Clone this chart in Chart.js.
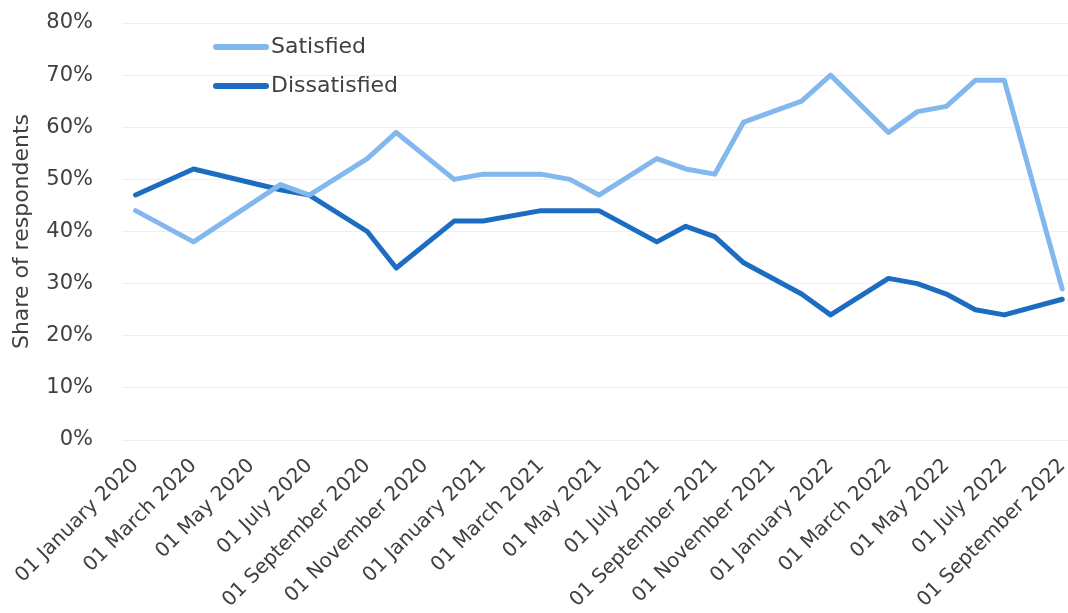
<!DOCTYPE html>
<html>
<head>
<meta charset="utf-8">
<script src="https://cdn.jsdelivr.net/npm/chart.js@4"></script>
<style>
  html, body { margin: 0; padding: 0; background: #fff; }
  #wrap { width: 1068px; height: 613px; position: relative; }
</style>
</head>
<body>
<div id="wrap"><canvas id="myChart"></canvas></div>
<script>
// months from Jan 2020 to Sep 2022, one entry per month
const meses = [
  "01 January 2020", "01 February 2020", "01 March 2020", "01 April 2020", "01 May 2020", "01 June 2020",
  "01 July 2020", "01 August 2020", "01 September 2020", "01 October 2020", "01 November 2020", "01 December 2020",
  "01 January 2021", "01 February 2021", "01 March 2021", "01 April 2021", "01 May 2021", "01 June 2021",
  "01 July 2021", "01 August 2021", "01 September 2021", "01 October 2021", "01 November 2021", "01 December 2021",
  "01 January 2022", "01 February 2022", "01 March 2022", "01 April 2022", "01 May 2022", "01 June 2022",
  "01 July 2022", "01 August 2022", "01 September 2022"
];

// null = no survey that month
const satisfechos = [
  44, null, 38, null, null, 49, 47, null, 54, 59, null, 50,
  51, null, 51, 50, 47, null, 54, 52, 51, 61, null, 65,
  70, null, 59, 63, 64, 69, 69, null, 29
];

const insatisfechos = [
  47, null, 52, null, null, 48, 47, null, 40, 33, null, 42,
  42, null, 44, 44, 44, null, 38, 41, 39, 34, null, 28,
  24, null, 31, 30, 28, 25, 24, null, 27
];

const etiquetasY = [0, 10, 20, 30, 40, 50, 60, 70, 80];

const colorTexto = '#404040';
const fuente = "'DejaVu Sans', sans-serif";

function aPuntos(valores) {
  return valores.map((v, i) => ({ x: i, y: v }));
}

// legend drawn inside the plot, top left
const leyendaPlugin = {
  id: 'leyenda',
  afterDraw(chart) {
    const ctx = chart.ctx;
    chart.data.datasets.forEach((ds, i) => {
      const y = 47 + i * 39;
      ctx.save();
      ctx.strokeStyle = ds.borderColor;
      ctx.lineWidth = 6;
      ctx.lineCap = 'round';
      ctx.beginPath();
      ctx.moveTo(216, y);
      ctx.lineTo(266, y);
      ctx.stroke();
      ctx.fillStyle = colorTexto;
      ctx.font = "22px " + fuente;
      ctx.textBaseline = 'middle';
      ctx.fillText(ds.label, 271, y);
      ctx.restore();
    });
  }
};

const ctx = document.getElementById("myChart");
new Chart(ctx, {
  type: "line",
  data: {
    datasets: [
      {
        label: "Satisfied",
        data: aPuntos(satisfechos),
        borderColor: '#83b8ee',
        borderWidth: 5,
        pointRadius: 0,
        spanGaps: true,
        tension: 0,
        borderJoinStyle: 'round',
        borderCapStyle: 'round'
      },
      {
        label: "Dissatisfied",
        data: aPuntos(insatisfechos),
        borderColor: '#1c6dc2',
        borderWidth: 5,
        pointRadius: 0,
        spanGaps: true,
        tension: 0,
        borderJoinStyle: 'round',
        borderCapStyle: 'round'
      }
    ]
  },
  options: {
    responsive: true,
    maintainAspectRatio: false,
    animation: false,
    layout: { padding: { top: 23, right: 0, left: 0, bottom: 0 } },
    plugins: {
      legend: { display: false },
      tooltip: { enabled: false }
    },
    scales: {
      x: {
        type: 'linear',
        min: -0.47,
        max: 32.2,
        grid: { display: false },
        border: { display: false },
        afterBuildTicks(scale) {
          const t = [];
          for (let i = 0; i < meses.length; i += 2) t.push({ value: i });
          scale.ticks = t;
        },
        afterFit(scale) {
          scale.height = 173;
          scale.paddingLeft = 0;
          scale.paddingRight = 0;
        },
        ticks: {
          autoSkip: false,
          minRotation: 45,
          maxRotation: 45,
          padding: 6,
          color: colorTexto,
          font: { family: fuente, size: 20 },
          callback: (v) => meses[v]
        }
      },
      y: {
        min: 0,
        max: 80,
        grid: { color: '#efefef', drawTicks: false, lineWidth: 1 },
        border: { display: false },
        afterFit(scale) {
          scale.width = 122;
          scale.paddingTop = 0;
          scale.paddingBottom = 0;
        },
        afterBuildTicks(scale) {
          scale.ticks = etiquetasY.map(v => ({ value: v }));
        },
        ticks: {
          padding: 29,
          color: colorTexto,
          font: { family: fuente, size: 21 },
          callback: (v) => v + '%'
        },
        title: {
          display: true,
          text: 'Share of respondents',
          color: colorTexto,
          font: { family: fuente, size: 22 },
          padding: { top: 9, bottom: 0 }
        }
      }
    }
  },
  plugins: [leyendaPlugin]
});
</script>
</body>
</html>
